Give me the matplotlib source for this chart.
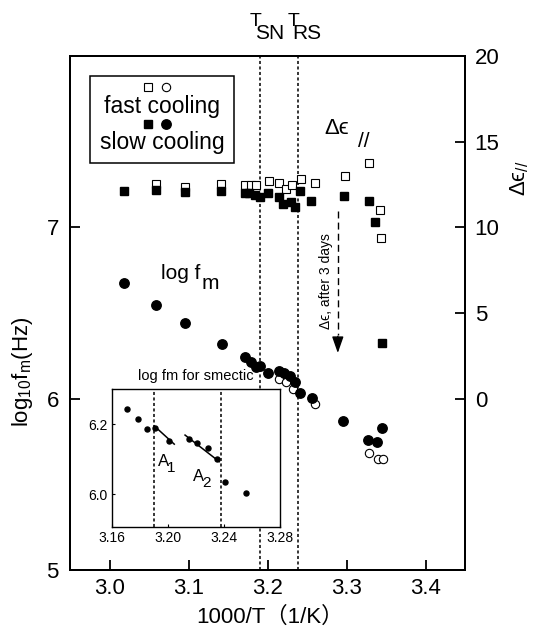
import matplotlib
matplotlib.use("Agg")
import matplotlib.pyplot as plt
import numpy as np
from matplotlib.patches import Rectangle

plt.rcParams["font.family"] = ["Liberation Sans", "DejaVu Sans"]
plt.rcParams["mathtext.fontset"] = "custom"
plt.rcParams["mathtext.rm"] = "Liberation Sans"

# slow cooling, dielectric strength (right axis)
slow_sq_x = [3.018, 3.059, 3.096, 3.141, 3.171, 3.177, 3.184, 3.190, 3.200, 3.214,
             3.219, 3.230, 3.235, 3.241, 3.255, 3.297, 3.328, 3.336, 3.345]
slow_sq_y = [12.14, 12.15, 12.06, 12.10, 12.00, 12.00, 11.90, 11.77, 12.00, 11.77,
             11.36, 11.46, 11.17, 12.10, 11.56, 11.80, 11.52, 10.30, 3.25]

# fast cooling, dielectric strength
fast_sq_x = [3.059, 3.096, 3.141, 3.171, 3.179, 3.186, 3.202, 3.215, 3.224, 3.231,
             3.242, 3.260, 3.298, 3.328, 3.342, 3.344]
fast_sq_y = [12.55, 12.35, 12.55, 12.49, 12.49, 12.50, 12.68, 12.58, 12.23, 12.49,
             12.82, 12.58, 12.97, 13.78, 11.00, 9.39]

# slow cooling, log fm (left axis)
slow_ci_x = [3.018, 3.059, 3.096, 3.142, 3.171, 3.179, 3.185, 3.191, 3.201, 3.215,
             3.221, 3.229, 3.235, 3.241, 3.256, 3.295, 3.327, 3.338, 3.345]
slow_ci_y = [6.675, 6.549, 6.444, 6.319, 6.243, 6.214, 6.186, 6.188, 6.152, 6.159,
             6.147, 6.133, 6.100, 6.034, 6.002, 5.867, 5.757, 5.747, 5.829]

# fast cooling, log fm
fast_ci_x = [3.215, 3.224, 3.232, 3.260, 3.329, 3.340, 3.346]
fast_ci_y = [6.117, 6.097, 6.058, 5.971, 5.685, 5.650, 5.650]

# transitions
t_sn = 3.190
t_rs = 3.238

# "after 3 days" arrow
arrow_x = 3.289
arrow_y = [10.98, 2.5]

# inset fit segments
a1_x = [3.1904, 3.2046]
a1_y = [6.195, 6.143]
a2_x = [3.2123, 3.2367]
a2_y = [6.169, 6.093]

fig = plt.figure(figsize=(5.39, 6.27), dpi=100)
ax = fig.add_axes([70 / 539, 57 / 627, 395 / 539, 514 / 627])
ax2 = ax.twinx()

ax.set_xlim(2.95, 3.45)
ax.set_ylim(5, 8)
ax2.set_ylim(-10, 20)
ax.set_xticks([3.0, 3.1, 3.2, 3.3, 3.4])
ax.set_yticks([5, 6, 7])
ax2.set_yticks([0, 5, 10, 15, 20])

for a in (ax, ax2):
    for s in a.spines.values():
        s.set_linewidth(1.4)
ax.tick_params(direction="in", length=7, width=1.3, labelsize=16, top=False, right=False)
ax.tick_params(axis="y", pad=8)
ax.tick_params(axis="x", pad=6)
ax2.tick_params(direction="in", length=7, width=1.3, labelsize=16, pad=7)

for xv in (t_sn, t_rs):
    ax.axvline(xv, color="k", lw=1.1, ls=(0, (2, 1.6)))

# data
ax2.plot(fast_sq_x, fast_sq_y, "s", ms=5.2, mfc="white", mec="k", mew=0.8)
ax2.plot(slow_sq_x, slow_sq_y, "s", ms=6.4, mfc="k", mec="k")
ax.plot(fast_ci_x, fast_ci_y, "o", ms=6.0, mfc="white", mec="k", mew=0.8)
ax.plot(slow_ci_x, slow_ci_y, "o", ms=6.8, mfc="k", mec="k")

# dashed arrow
ax2.plot([arrow_x, arrow_x], [arrow_y[0], arrow_y[1] + 1.2], color="k", lw=1.0, ls=(0, (5, 3)))
ax2.annotate("", xy=(arrow_x, arrow_y[1]), xytext=(arrow_x, arrow_y[1] + 1.3),
             arrowprops=dict(arrowstyle="-|>,head_length=1.0,head_width=0.35", color="k", lw=1.0))
ax2.text(arrow_x - 0.0145, 6.85, "Δϵ, after 3 days", rotation=90, ha="center", va="center",
         fontsize=10, family=["Liberation Sans", "DejaVu Sans"])

# annotations
ax.text(3.115, 6.73, "log f", fontsize=15, ha="right", va="center")
ax.text(3.117, 6.671, "m", fontsize=15, ha="left", va="center")
ax2.text(3.287, 15.74, "Δϵ", fontsize=16, ha="center", va="center",
         family=["Liberation Sans", "DejaVu Sans"])
ax2.text(3.3215, 15.0, "//", fontsize=15, ha="center", va="center")

for xv, lab in ((t_sn, "SN"), (t_rs, "RS")):
    ax.annotate("T", xy=(xv, 1.0), xycoords=("data", "axes fraction"), xytext=(-3, 25),
                textcoords="offset points", ha="center", va="center", fontsize=14)
    ax.annotate(lab, xy=(xv, 1.0), xycoords=("data", "axes fraction"), xytext=(7, 16),
                textcoords="offset points", ha="center", va="center", fontsize=15)

ax.set_xlabel("1000/T（1/K）", fontsize=16, family=["Liberation Sans", "Noto Sans CJK JP"])
ax.xaxis.set_label_coords(0.506, -0.072)
ax.set_ylabel(r"log$_{\mathrm{10}}$f$_{\mathrm{m}}$(Hz)", fontsize=16)
ax.yaxis.set_label_coords(-0.089, 0.385)
ax2.set_ylabel(r"Δϵ$_{//}$", fontsize=16, family=["Liberation Sans", "DejaVu Sans"])
ax2.yaxis.set_label_coords(1.109, 0.763)

# legend box
ax2.add_patch(Rectangle((0.0516, 0.7912), 0.3644, 0.1705, transform=ax2.transAxes,
                        fill=False, lw=1.1, ec="k", zorder=5))
ax2.plot([0.1987], [0.939], "s", ms=5.2, mfc="white", mec="k", mew=0.8, transform=ax2.transAxes)
ax2.plot([0.2438], [0.939], "o", ms=6.0, mfc="white", mec="k", mew=0.8, transform=ax2.transAxes)
ax2.plot([0.1987], [0.867], "s", ms=6.4, mfc="k", mec="k", transform=ax2.transAxes)
ax2.plot([0.2438], [0.867], "o", ms=6.8, mfc="k", mec="k", transform=ax2.transAxes)
ax2.text(0.234, 0.9027, "fast cooling", transform=ax2.transAxes, fontsize=16.5, ha="center", va="center")
ax2.text(0.234, 0.8313, "slow cooling", transform=ax2.transAxes, fontsize=16.5, ha="center", va="center")

# inset
axi = fig.add_axes([111.7 / 539, 99.7 / 627, 168.3 / 539, 138 / 627])
axi.set_facecolor("white")
axi.set_xlim(3.16, 3.28)
axi.set_ylim(5.905, 6.30)
axi.set_xticks([3.16, 3.20, 3.24, 3.28])
axi.set_xticklabels(["3.16", "3.20", "3.24", "3.28"])
axi.set_yticks([6.0, 6.2])
axi.set_yticklabels(["6.0", "6.2"])
axi.tick_params(direction="in", length=2, width=0.8, labelsize=10, pad=3)
for s in axi.spines.values():
    s.set_linewidth(1.0)
cx = np.array(slow_ci_x)
cy = np.array(slow_ci_y)
sel = (cx > 3.16) & (cx < 3.28)
axi.plot(cx[sel], cy[sel], "o", ms=3.6, color="k")
axi.plot(a1_x, a1_y, color="k", lw=1.1)
axi.plot(a2_x, a2_y, color="k", lw=1.1)
for xv in (t_sn, t_rs):
    axi.axvline(xv, color="k", lw=1.1, ls=(0, (2, 1.6)))
axi.text(3.197, 6.093, "A", fontsize=12, ha="center", va="center")
axi.text(3.2025, 6.075, "1", fontsize=11, ha="center", va="center")
axi.text(3.222, 6.050, "A", fontsize=12, ha="center", va="center")
axi.text(3.2275, 6.032, "2", fontsize=11, ha="center", va="center")
axi.set_title("log fm for smectic", fontsize=10.5, pad=7)

fig.savefig("out.png", dpi=100)
